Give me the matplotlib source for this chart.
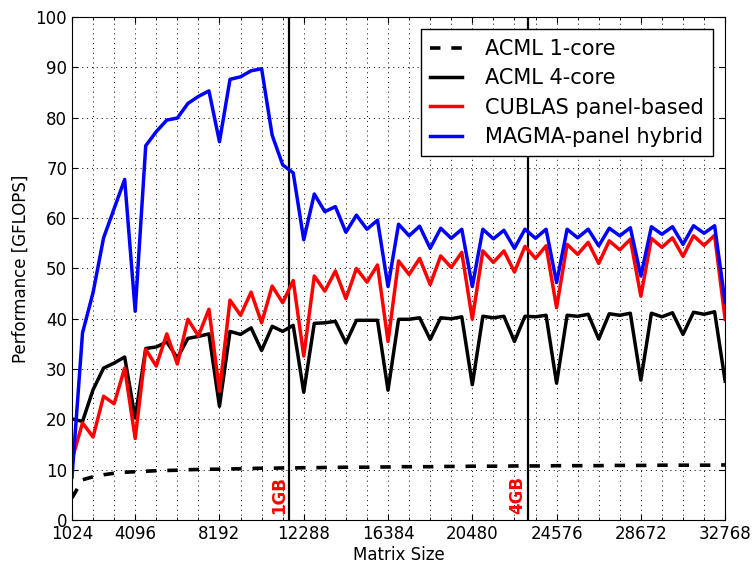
import matplotlib; matplotlib.use("Agg")
import matplotlib.pyplot as plt
from matplotlib.ticker import MultipleLocator, FixedLocator

# matrix sizes, step 512
sizes = list(range(1024, 32768 + 1, 512))

acml_1core = [4.4, 8.0, 8.6, 9.0, 9.3, 9.5, 9.6, 9.7, 9.8, 9.85, 9.9, 10.0, 10.05, 10.1, 10.1, 10.15,
              10.2, 10.25, 10.3, 10.3, 10.35, 10.35, 10.4, 10.4, 10.45, 10.45, 10.5, 10.5, 10.5, 10.55,
              10.55, 10.6, 10.6, 10.6, 10.6, 10.65, 10.65, 10.65, 10.7, 10.7, 10.7, 10.7, 10.75, 10.75,
              10.75, 10.75, 10.8, 10.8, 10.8, 10.8, 10.8, 10.85, 10.85, 10.85, 10.85, 10.85, 10.9, 10.9,
              10.9, 10.9, 10.9, 10.9, 10.95]
acml_4core = [20.1, 19.6, 25.9, 30.2, 31.2, 32.4, 20.3, 34.1, 34.4, 35.4, 32.2, 36.1, 36.5, 37.0, 22.6,
              37.5, 36.9, 38.2, 33.7, 38.5, 37.5, 38.7, 25.4, 39.1, 39.2, 39.5, 35.2, 39.7, 39.7, 39.7,
              25.8, 39.9, 39.9, 40.2, 35.9, 40.2, 40.0, 40.4, 26.9, 40.5, 40.2, 40.5, 35.5, 40.5, 40.4,
              40.7, 27.2, 40.7, 40.5, 40.9, 36.0, 41.0, 40.7, 41.1, 27.8, 41.1, 40.4, 41.2, 36.9, 41.3,
              40.9, 41.4, 27.6]
cublas_panel = [12.0, 19.3, 16.5, 24.6, 23.1, 30.2, 16.2, 33.9, 30.6, 37.0, 31.0, 39.9, 36.6, 41.9, 25.6,
                43.7, 40.7, 45.3, 39.2, 46.5, 43.2, 47.6, 32.6, 48.5, 45.5, 49.5, 44.0, 50.0, 47.3, 50.7,
                35.5, 51.5, 48.8, 52.0, 46.8, 52.5, 50.2, 53.2, 39.9, 53.5, 51.2, 53.5, 49.3, 54.4, 52.0,
                54.5, 42.2, 54.8, 52.8, 55.2, 51.0, 55.5, 53.7, 55.8, 44.5, 56.0, 54.2, 56.1, 52.4, 56.5,
                54.6, 56.6, 39.9]
magma_hybrid = [8.5, 37.2, 45.2, 56.1, 61.9, 67.7, 41.5, 74.4, 77.2, 79.5, 79.9, 82.8, 84.2, 85.3, 75.2,
                87.6, 88.1, 89.3, 89.7, 76.5, 70.6, 69.0, 55.7, 64.8, 61.3, 62.3, 57.2, 60.6, 57.8, 59.6,
                46.4, 58.8, 56.5, 58.4, 54.0, 58.0, 56.0, 57.8, 46.4, 57.8, 55.9, 57.6, 54.0, 57.8, 56.0,
                57.8, 47.2, 57.8, 56.1, 57.8, 54.5, 58.0, 56.5, 58.1, 48.5, 58.3, 56.8, 58.3, 54.8, 58.5,
                57.0, 58.5, 43.2]

# sizes where an n x n double matrix reaches 1GB / 4GB
mem_marks = [11585, 23170]
mem_labels = ["1GB", "4GB"]

xticks = [1024, 4096, 8192, 12288, 16384, 20480, 24576, 28672, 32768]

fig = plt.figure(figsize=(7.53, 5.65), dpi=100)
ax = fig.add_axes([0.0956, 0.0796, 0.8674, 0.8904])

for xm, lab in zip(mem_marks, mem_labels):
    ax.axvline(xm, color="black", lw=1.6)
    ax.text(xm - 60, 1.2, lab, rotation=90, ha="right", va="bottom",
            color="red", fontsize=12, fontweight="bold")

ax.plot(sizes, acml_1core, color="black", lw=2.6, dashes=(2.9, 3.0), label="ACML 1-core")
ax.plot(sizes, acml_4core, color="black", lw=2.5, label="ACML 4-core")
ax.plot(sizes, cublas_panel, color="red", lw=2.5, label="CUBLAS panel-based")
ax.plot(sizes, magma_hybrid, color="blue", lw=2.5, label="MAGMA-panel hybrid")

ax.set_xlim(1024, 32768)
ax.set_ylim(0, 100)
ax.xaxis.set_major_locator(FixedLocator(xticks))
ax.xaxis.set_minor_locator(MultipleLocator(1024))
ax.yaxis.set_major_locator(MultipleLocator(10))
ax.tick_params(which="both", direction="in", top=True, right=True, labelsize=12)
ax.tick_params(which="major", length=4)
ax.tick_params(which="minor", length=2)
grid_style = dict(color="black", ls=(0, (1, 4)), lw=0.7)
ax.grid(which="major", axis="y", **grid_style)
ax.grid(which="both", axis="x", **grid_style)

ax.set_xlabel("Matrix Size", fontsize=12, labelpad=2)
ax.set_ylabel("Performance [GFLOPS]", fontsize=12)

leg = ax.legend(loc="upper right", fontsize=15, fancybox=False, framealpha=1,
                edgecolor="black", handlelength=1.5, handletextpad=1.1,
                labelspacing=0.45, borderaxespad=0.6, borderpad=0.45)
leg.get_frame().set_linewidth(1.0)

fig.savefig("out.png", dpi=100)
